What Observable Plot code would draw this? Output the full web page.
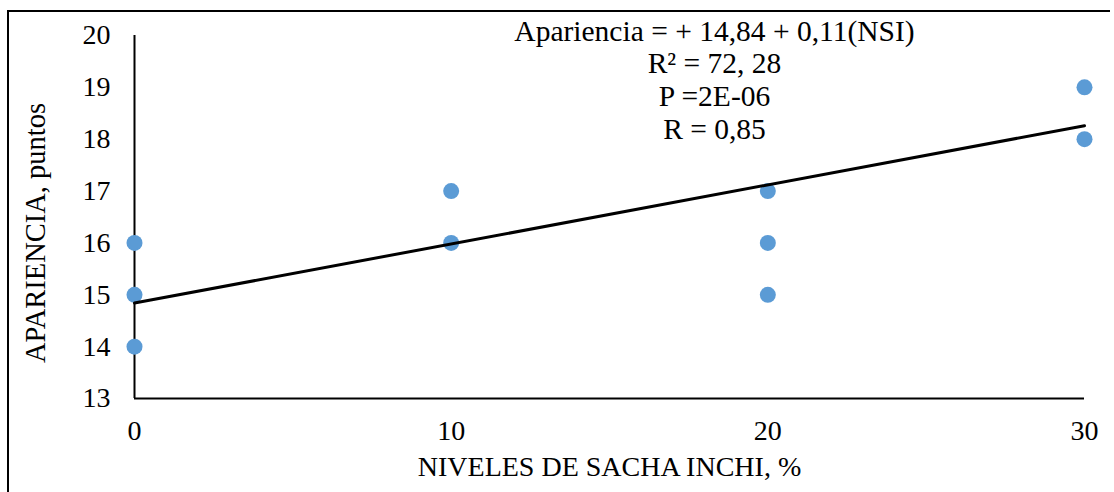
<!DOCTYPE html>
<html>
<head>
<meta charset="utf-8">
<script src="https://cdn.jsdelivr.net/npm/d3@7"></script>
<script src="https://cdn.jsdelivr.net/npm/@observablehq/plot@0.6"></script>
<style>
  html, body { margin: 0; padding: 0; background: #fff; }
  #wrap { position: relative; width: 1114px; height: 492px; overflow: hidden; }
  #border { position: absolute; left: 7px; top: 10px; width: 1103px; height: 490px;
            border-left: 2px solid #000; border-top: 2px solid #000; box-sizing: border-box; }
  #chart { position: absolute; left: 0; top: 0; }
  #chart svg, #chart svg g, #chart svg text {
    font-family: 'Liberation Serif', 'Times New Roman', serif !important;
    font-variant-numeric: normal !important;
  }
</style>
</head>
<body>
<div id="wrap"><div id="border"></div><div id="chart"></div></div>
<script>
// Niveles de sacha inchi (%) y puntaje de apariencia de cada observación
const niveles = [0, 0, 0, 10, 10, 20, 20, 20, 30, 30];
const apariencia = [16, 15, 14, 17, 16, 17, 16, 15, 19, 18];

// Recta de regresión ajustada
const intercepto = 14.84;
const pendiente = 0.114;
const rangoNiveles = [0, 30];

const ticksX = [0, 10, 20, 30];
const ticksY = [13, 14, 15, 16, 17, 18, 19, 20];

const anotacion = [
  "Apariencia = + 14,84 + 0,11(NSI)",
  "R² = 72, 28",
  "P =2E-06",
  "R = 0,85"
];

const tituloX = "NIVELES DE SACHA INCHI, %";
const tituloY = "APARIENCIA, puntos";

const puntos = niveles.map((n, i) => ({nivel: n, valor: apariencia[i]}));
const recta = rangoNiveles.map(n => ({nivel: n, valor: intercepto + pendiente * n}));

const serif = "'Liberation Serif', 'Times New Roman', serif";

const chart = Plot.plot({
  width: 1114,
  height: 492,
  marginLeft: 134,
  marginRight: 30,
  marginTop: 35,
  marginBottom: 94,
  style: {fontFamily: serif, fontSize: "28px", color: "#000", background: "transparent"},
  x: {domain: [0, 30]},
  y: {domain: [13, 20]},
  marks: [
    Plot.axisY({ticks: ticksY, tickFormat: "d", tickSize: 0, tickPadding: 24, label: null,
                fontSize: 28, fontFamily: serif}),
    Plot.axisX({ticks: ticksX, tickFormat: "d", tickSize: 0, tickPadding: 22, label: null,
                fontSize: 28, fontFamily: serif}),
    Plot.ruleX([0], {stroke: "#000", strokeWidth: 2}),
    Plot.ruleY([13], {stroke: "#000", strokeWidth: 2}),
    Plot.dot(puntos, {x: "nivel", y: "valor", r: 8, fill: "#5B9BD5", stroke: "none"}),
    Plot.line(recta, {x: "nivel", y: "valor", stroke: "#000", strokeWidth: 3}),
    Plot.text([anotacion.join("\n")], {
      frameAnchor: "top", lineAnchor: "top", dx: 105, dy: -18,
      lineHeight: 1.11, fontSize: 29.5, fontFamily: serif, fill: "#000"
    }),
    Plot.text([tituloX], {
      frameAnchor: "bottom", lineAnchor: "middle", dy: 69, fontSize: 28, fontFamily: serif, fill: "#000"
    }),
    Plot.text([tituloY], {
      frameAnchor: "left", textAnchor: "middle", lineAnchor: "middle", rotate: -90,
      dx: -99, dy: 16, fontSize: 28.5, fontFamily: serif, fill: "#000"
    })
  ]
});

document.getElementById("chart").appendChild(chart);
</script>
</body>
</html>
